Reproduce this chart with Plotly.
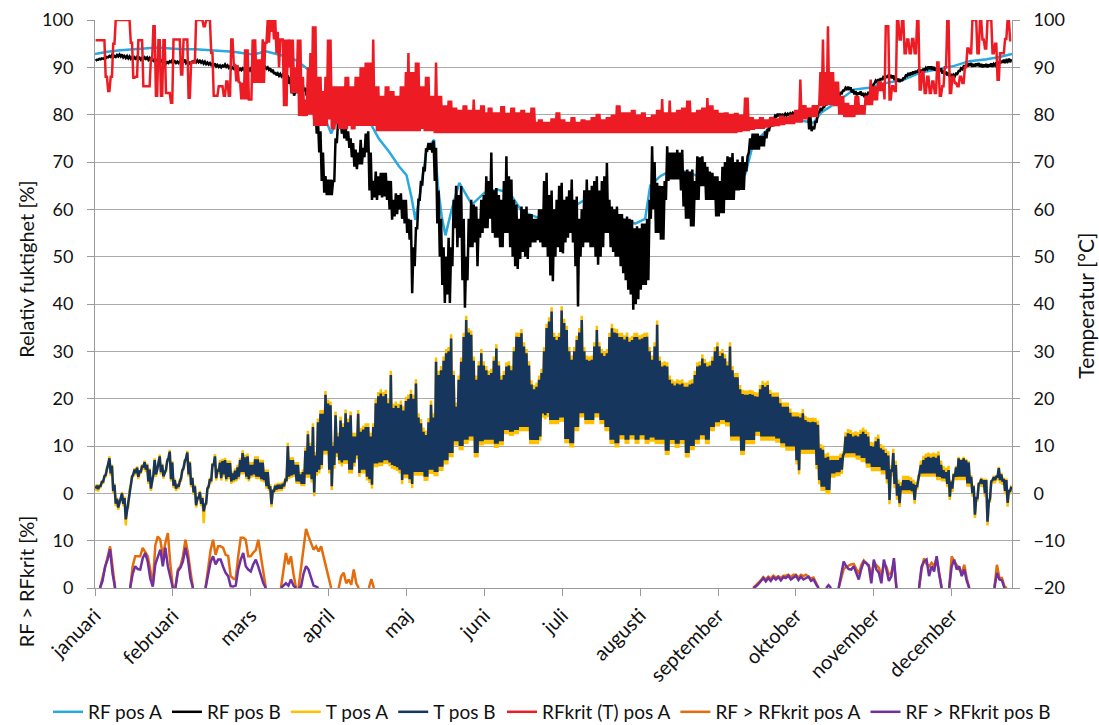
import plotly.graph_objects as go

# ---------------------------------------------------------------- data
months = ["januari", "februari", "mars", "april", "maj", "juni", "juli",
          "augusti", "september", "oktober", "november", "december"]
month_tick_days = [0, 31, 62, 93, 124, 155, 186, 217, 248, 279, 310, 341]

# RF pos A (smooth sensor), sampled at the listed days
rf_pos_a_days = [0, 5, 10, 15, 20, 25, 30, 35, 40, 45, 50, 55, 60, 63, 68, 72, 76, 80, 83, 85,
                 88, 91, 94, 96, 98, 103, 105, 107, 108, 110, 113, 117, 121, 124, 126, 127.5, 129,
                 132, 135, 136.5, 138, 139.5, 142, 145, 150, 155, 160, 165, 170, 175, 180, 185,
                 190, 195, 200, 205, 210, 215, 219, 221, 225, 230, 235, 240, 245, 250, 255, 259,
                 262, 265, 269, 275, 280, 286, 289, 295, 302, 308, 315, 322, 328, 335, 342, 348,
                 355, 360, 365]
rf_pos_a = [92.8, 93.3, 93.6, 93.8, 94.1, 94.2, 94.0, 93.8, 93.8, 93.6, 93.4, 93.3, 92.9, 92.7,
            93.4, 92.8, 92.3, 91.5, 90.4, 89.5, 86.0, 80.0, 76.0, 78.5, 80.2, 80.4, 79.5, 80.6,
            81.0, 77.8, 74.9, 72.2, 69.1, 67.2, 62.5, 57.8, 62.0, 72.6, 74.7, 65.0, 58.5, 54.5,
            60.0, 65.6, 61.0, 63.5, 64.2, 63.5, 59.5, 58.5, 57.5, 60.0, 60.5, 62.0, 62.5, 60.0,
            58.0, 57.0, 58.0, 65.0, 67.0, 68.4, 68.0, 67.0, 65.5, 64.0, 64.5, 67.7, 74.0, 75.4,
            77.6, 79.0, 78.8, 78.3, 80.4, 82.5, 85.3, 85.7, 86.7, 87.4, 88.8, 89.6, 90.3, 91.3,
            91.7, 92.2, 92.8]

# Daily minimum / maximum (day 0 .. 364)
rf_pos_b_min = [
    91.4, 91.6, 91.7, 91.8, 91.9, 92.1, 92.2, 92.1, 92.2, 92.3,
    92.3, 92.1, 92.0, 91.9, 91.8, 91.7, 91.8, 91.7, 91.6, 91.7,
    91.8, 91.6, 91.5, 91.4, 91.3, 91.3, 91.2, 91.0, 90.8, 90.9,
    91.1, 91.0, 90.9, 90.9, 91.0, 91.2, 90.9, 90.7, 90.8, 91.1,
    91.1, 91.1, 91.0, 90.8, 90.7, 90.6, 90.5, 90.4, 90.2, 90.1,
    90.0, 90.2, 90.1, 89.9, 89.7, 89.7, 89.5, 89.4, 89.4, 89.5,
    89.3, 89.3, 89.2, 89.2, 89.3, 89.4, 89.6, 89.7, 89.7, 89.5,
    89.0, 88.6, 88.3, 88.2, 88.1, 88.0, 87.8, 86.5, 84.5, 84.0,
    84.8, 85.6, 85.4, 84.9, 84.0, 83.8, 82.0, 79.0, 76.0, 72.0,
    66.0, 63.5, 63.0, 63.0, 63.0, 66.0, 74.0, 77.0, 76.0, 75.0,
    74.5, 73.0, 71.0, 69.0, 68.5, 69.5, 69.5, 71.0, 72.0, 64.0,
    62.0, 62.5, 62.0, 63.0, 62.5, 62.7, 62.0, 60.0, 57.8, 58.5,
    59.0, 60.0, 58.0, 57.0, 55.0, 53.6, 42.3, 48.0, 56.0, 62.0,
    65.0, 68.0, 72.5, 72.6, 72.0, 66.0, 57.0, 50.0, 44.0, 40.2,
    42.0, 40.2, 48.0, 56.0, 52.0, 54.0, 45.0, 39.2, 45.0, 52.0,
    52.0, 53.0, 48.0, 54.0, 55.0, 56.0, 56.0, 58.0, 55.0, 54.0,
    54.0, 52.0, 52.0, 55.0, 55.0, 52.0, 50.0, 48.0, 47.4, 49.5,
    51.0, 50.0, 49.5, 52.0, 53.0, 53.0, 53.5, 53.0, 52.0, 52.0,
    50.0, 46.0, 44.8, 50.0, 52.0, 51.0, 50.7, 53.0, 54.0, 55.0,
    53.0, 48.0, 39.5, 50.0, 52.0, 53.0, 53.0, 52.0, 52.0, 50.0,
    48.3, 50.0, 52.0, 55.0, 55.0, 52.0, 51.0, 50.0, 50.0, 48.0,
    46.5, 45.0, 43.0, 42.0, 38.8, 40.0, 41.0, 43.0, 44.0, 44.0,
    45.0, 58.0, 60.0, 55.0, 55.0, 53.6, 53.6, 62.0, 66.0, 66.3,
    66.3, 66.3, 66.3, 64.0, 60.6, 58.0, 58.0, 56.4, 56.4, 62.0,
    62.0, 64.9, 64.9, 62.0, 62.0, 62.0, 62.0, 58.5, 58.5, 59.2,
    59.2, 62.0, 62.0, 62.0, 62.0, 64.0, 64.0, 64.1, 64.1, 68.0,
    72.0, 72.6, 72.6, 72.6, 72.6, 73.3, 73.3, 75.0, 76.5, 77.5,
    79.0, 79.6, 79.7, 79.6, 79.8, 79.8, 79.9, 80.0, 80.1, 80.2,
    80.3, 80.4, 80.7, 79.5, 76.9, 76.5, 76.9, 78.5, 80.5, 81.0,
    81.6, 82.2, 82.9, 83.2, 83.6, 83.8, 84.0, 84.5, 85.1, 85.4,
    85.2, 84.7, 84.3, 84.1, 84.3, 84.0, 83.7, 84.0, 84.5, 85.4,
    86.6, 86.9, 87.1, 87.3, 87.6, 87.8, 87.8, 87.7, 87.3, 87.0,
    86.9, 87.1, 87.7, 88.2, 88.3, 88.5, 88.7, 88.9, 88.9, 89.1,
    89.3, 89.6, 89.6, 89.5, 89.3, 89.4, 89.2, 88.7, 88.5, 88.3,
    88.0, 87.8, 88.1, 88.6, 89.2, 89.6, 90.0, 90.2, 90.3, 90.1,
    90.2, 90.3, 90.1, 90.0, 90.1, 90.0, 90.2, 90.1, 90.4, 90.6,
    90.8, 91.0, 90.9, 91.2, 91.1]
rf_pos_b_max = [
    91.6, 91.8, 91.9, 92.0, 92.2, 92.4, 92.6, 92.4, 92.6, 92.7,
    92.7, 92.4, 92.4, 92.3, 92.1, 92.1, 92.2, 92.0, 92.0, 92.1,
    92.1, 92.0, 91.8, 91.7, 91.6, 91.7, 91.5, 91.4, 91.1, 91.3,
    91.5, 91.3, 91.2, 91.3, 91.4, 91.6, 91.2, 91.0, 91.2, 91.5,
    91.5, 91.4, 91.3, 91.2, 91.0, 90.9, 90.8, 90.8, 90.5, 90.4,
    90.4, 90.6, 90.4, 90.2, 90.0, 90.1, 89.8, 89.7, 89.8, 89.9,
    89.6, 89.7, 89.5, 89.6, 89.7, 89.8, 90.0, 90.1, 90.0, 89.8,
    89.5, 89.0, 88.7, 88.6, 88.5, 88.4, 88.3, 88.0, 86.5, 85.0,
    85.8, 86.3, 86.1, 85.7, 85.0, 84.7, 84.0, 82.0, 79.0, 76.5,
    72.0, 67.0, 66.3, 66.3, 66.0, 75.0, 78.5, 79.5, 78.5, 77.5,
    76.5, 75.0, 74.0, 72.6, 72.0, 74.7, 73.0, 76.0, 76.5, 72.0,
    66.0, 68.0, 67.0, 67.7, 67.7, 67.7, 66.0, 66.0, 62.0, 63.4,
    63.0, 63.4, 62.0, 62.0, 58.0, 57.8, 52.0, 56.0, 62.0, 66.0,
    69.0, 72.6, 74.0, 74.0, 74.5, 73.0, 64.0, 58.0, 52.0, 50.0,
    54.0, 52.0, 62.0, 65.0, 63.0, 64.9, 58.0, 50.0, 58.0, 62.0,
    61.0, 60.6, 58.0, 62.0, 63.0, 67.0, 66.0, 72.0, 64.0, 64.5,
    63.0, 62.0, 66.0, 71.2, 67.0, 66.3, 62.0, 61.0, 58.0, 60.6,
    60.0, 60.6, 59.0, 59.0, 58.0, 58.0, 60.0, 60.0, 66.0, 67.7,
    63.0, 64.0, 60.0, 62.0, 65.0, 65.6, 62.0, 62.7, 64.0, 66.3,
    62.0, 62.7, 58.0, 60.0, 64.0, 66.3, 64.0, 65.0, 66.0, 67.0,
    64.0, 66.0, 67.0, 69.8, 62.0, 60.6, 60.0, 60.6, 59.0, 59.0,
    58.0, 58.5, 58.0, 57.8, 56.0, 56.4, 56.0, 57.0, 57.0, 58.0,
    62.0, 73.3, 70.0, 65.6, 65.0, 64.9, 66.0, 73.3, 72.0, 72.0,
    72.0, 72.6, 72.0, 72.6, 68.0, 68.4, 68.0, 68.4, 66.0, 71.2,
    71.0, 71.2, 70.0, 69.0, 68.0, 67.7, 67.0, 67.0, 66.0, 69.0,
    70.0, 71.2, 71.0, 71.9, 70.0, 70.5, 70.0, 71.2, 70.0, 71.2,
    75.0, 76.0, 76.0, 76.0, 75.5, 75.5, 76.5, 77.0, 78.0, 78.6,
    79.8, 80.2, 80.2, 80.0, 80.2, 80.2, 80.3, 80.4, 80.5, 80.6,
    80.7, 80.9, 81.2, 81.0, 79.5, 77.5, 78.5, 80.5, 81.2, 81.5,
    82.3, 82.8, 83.5, 83.8, 84.1, 84.3, 84.6, 85.1, 85.7, 85.9,
    85.8, 85.3, 84.9, 84.7, 84.9, 84.6, 84.3, 84.6, 85.2, 86.3,
    87.2, 87.5, 87.7, 87.9, 88.2, 88.4, 88.4, 88.3, 87.9, 87.6,
    87.5, 87.7, 88.3, 88.8, 88.9, 89.1, 89.3, 89.5, 89.5, 89.7,
    89.9, 90.2, 90.2, 90.1, 89.9, 90.0, 89.8, 89.3, 89.1, 88.9,
    88.6, 88.4, 88.7, 89.2, 89.8, 90.2, 90.6, 90.8, 90.9, 90.7,
    90.8, 90.9, 90.7, 90.6, 90.7, 90.6, 90.8, 90.7, 91.0, 91.2,
    91.4, 91.6, 91.5, 91.8, 91.7]

t_pos_a_min = [
    0.5, 0.4, 1.1, 2.0, 3.4, 5.5, 3.7, 0.0, -2.7, -3.5,
    -1.4, -2.7, -6.8, -3.0, 1.7, 3.5, 3.8, 3.0, 4.1, 5.0,
    4.5, 2.0, 0.5, 3.5, 3.5, 6.0, 4.0, 3.1, 4.5, 7.0,
    2.5, 1.1, 0.5, 0.9, 2.7, 4.9, 6.9, 3.5, 1.3, -0.3,
    -3.0, -1.5, -2.7, -6.3, -2.5, 1.0, 2.1, 5.5, 2.7, 4.1,
    2.7, 3.5, 2.5, 3.0, 2.0, 2.3, 2.5, 3.0, 4.0, 4.0,
    3.0, 2.5, 3.3, 3.5, 3.0, 3.0, 2.5, 2.3, 1.0, 0.5,
    -2.9, 0.0, 0.3, 0.5, 0.5, 1.0, 2.3, 3.0, 3.3, 3.5,
    2.0, 2.0, 1.5, 1.5, 3.3, 3.3, 2.3, -0.6, 3.7, 4.2,
    5.2, 8.2, 8.2, 4.2, 0.7, 5.2, 7.7, 6.2, 5.7, 6.2,
    6.2, 4.2, 4.2, 5.7, 7.2, 3.5, 4.2, 4.2, 2.7, 2.2,
    1.0, 5.5, 5.5, 5.7, 5.7, 6.2, 6.2, 5.7, 5.2, 5.0,
    4.7, 4.2, 1.9, 3.2, 3.2, 2.2, 1.1, 3.7, 3.7, 3.7,
    3.7, 2.6, 2.6, 4.1, 4.1, 3.6, 3.6, 4.7, 4.7, 6.1,
    6.1, 7.6, 7.6, 10.1, 10.1, 9.1, 9.1, 10.4, 10.4, 11.1,
    11.1, 7.6, 7.6, 10.1, 10.1, 10.4, 10.4, 10.4, 10.4, 9.6,
    9.6, 10.1, 10.1, 12.5, 12.5, 12.1, 12.1, 12.5, 12.5, 13.1,
    13.1, 13.1, 13.1, 10.4, 10.4, 10.4, 10.4, 11.1, 16.0, 15.6,
    16.1, 14.6, 14.6, 14.6, 14.6, 15.1, 15.1, 10.6, 10.6, 9.7,
    9.7, 13.1, 13.1, 16.0, 16.0, 14.6, 14.6, 14.6, 14.6, 16.0,
    16.0, 14.6, 14.6, 13.1, 13.1, 10.4, 10.4, 9.7, 9.7, 11.4,
    11.4, 10.4, 10.4, 11.4, 11.4, 10.4, 10.4, 11.4, 11.4, 10.4,
    10.4, 10.9, 10.9, 10.4, 10.4, 10.4, 10.4, 8.1, 8.1, 10.4,
    10.4, 9.6, 9.6, 10.4, 10.4, 7.6, 7.6, 9.1, 9.1, 10.4,
    10.4, 11.4, 11.4, 10.4, 10.4, 13.1, 13.1, 14.1, 14.1, 14.6,
    14.6, 14.1, 14.1, 11.1, 11.1, 11.1, 11.1, 8.1, 8.1, 10.4,
    10.4, 10.4, 10.4, 12.1, 12.1, 11.1, 11.1, 11.1, 11.1, 11.1,
    11.1, 10.7, 10.7, 9.7, 9.7, 9.0, 9.0, 9.0, 9.0, 6.1,
    4.0, 8.3, 8.3, 8.3, 8.3, 8.3, 8.3, 5.1, 1.9, 0.5,
    0.5, -0.2, -0.2, 3.3, 3.3, 3.6, 3.6, 4.1, 7.6, 7.6,
    7.6, 7.6, 7.6, 7.1, 7.1, 6.6, 6.6, 5.4, 5.4, 4.7,
    4.7, 4.7, 4.7, 4.0, 4.0, 2.1, -2.3, 3.6, 1.1, -1.4,
    -2.9, 0.0, 0.0, 0.0, 0.0, -0.2, -2.2, 0.8, 3.5, 3.5,
    3.5, 3.5, 3.5, 3.5, 3.5, 2.8, 2.8, 2.5, 2.5, 1.3,
    -1.4, 0.3, 2.8, 2.8, 2.8, 2.8, 2.8, 1.4, 1.4, -0.7,
    -5.2, -1.7, 1.5, 1.3, -0.7, -6.8, -1.7, 2.1, 2.1, 2.8,
    2.1, 1.8, -0.2, -2.8, -0.2]
t_pos_a_max = [
    1.9, 1.8, 2.7, 3.9, 5.5, 7.8, 6.1, 2.1, -0.9, -1.7,
    0.3, -0.7, -3.2, 0.8, 3.8, 5.3, 5.7, 4.9, 6.1, 6.9,
    6.3, 5.3, 2.8, 7.4, 5.3, 8.2, 6.3, 4.8, 7.1, 9.2,
    6.8, 3.1, 2.1, 2.8, 5.1, 7.1, 9.0, 6.8, 3.5, 1.8,
    -0.7, 0.5, -0.7, -2.2, 1.3, 3.3, 6.4, 8.3, 5.4, 7.0,
    7.3, 7.5, 6.9, 6.9, 4.6, 5.3, 6.0, 7.5, 9.1, 8.2,
    8.4, 6.6, 6.6, 7.8, 7.8, 7.1, 7.1, 5.0, 5.0, 1.9,
    0.9, 2.0, 2.2, 2.2, 2.4, 3.3, 10.7, 7.6, 7.6, 6.6,
    6.6, 4.5, 5.0, 9.7, 13.2, 10.7, 14.8, 8.7, 15.8, 17.6,
    17.6, 21.6, 19.8, 19.4, 10.8, 17.3, 12.8, 16.2, 14.8, 17.7,
    15.8, 17.3, 12.8, 12.8, 17.6, 13.8, 14.3, 14.8, 14.8, 12.8,
    14.8, 19.9, 21.4, 22.0, 21.4, 21.9, 19.9, 25.9, 18.9, 19.4,
    18.9, 19.6, 18.4, 20.4, 20.9, 21.9, 20.9, 24.1, 16.9, 15.7,
    13.9, 13.2, 15.9, 19.6, 16.9, 28.7, 25.9, 26.9, 28.9, 30.5,
    30.9, 33.6, 25.9, 19.2, 24.9, 28.7, 33.9, 37.5, 34.9, 34.4,
    28.9, 24.9, 27.9, 30.5, 27.9, 26.9, 25.9, 26.3, 28.9, 31.5,
    27.9, 24.9, 25.9, 27.7, 27.9, 26.9, 30.9, 34.0, 33.9, 34.7,
    31.9, 30.5, 27.9, 23.9, 22.9, 23.4, 24.9, 26.3, 30.9, 35.8,
    37.2, 39.3, 33.9, 33.3, 33.9, 39.5, 36.9, 35.4, 30.9, 29.1,
    30.9, 33.3, 34.9, 37.5, 30.9, 29.1, 28.9, 29.1, 31.9, 35.4,
    31.9, 30.5, 29.9, 30.5, 33.9, 35.8, 34.9, 34.7, 33.9, 33.9,
    33.4, 34.0, 32.9, 33.3, 33.9, 33.9, 33.4, 33.6, 33.9, 34.0,
    30.9, 29.1, 31.9, 36.5, 28.9, 27.7, 27.9, 27.7, 24.9, 24.1,
    23.7, 24.1, 23.9, 24.1, 23.4, 23.4, 23.9, 24.1, 25.9, 27.7,
    27.9, 29.4, 28.4, 27.7, 27.9, 28.9, 30.9, 31.9, 29.9, 30.5,
    29.4, 27.9, 31.9, 26.9, 25.4, 25.4, 22.9, 21.9, 21.7, 21.7,
    21.9, 21.7, 21.4, 21.3, 22.9, 23.8, 23.4, 23.8, 21.9, 21.3,
    21.3, 21.3, 19.9, 19.2, 19.2, 19.2, 17.9, 17.1, 17.1, 17.1,
    16.9, 17.8, 16.4, 16.0, 15.9, 16.0, 15.9, 15.4, 10.4, 10.1,
    8.4, 8.6, 7.9, 7.9, 7.9, 7.9, 8.4, 8.9, 12.9, 13.6,
    13.4, 12.9, 13.1, 12.9, 13.4, 13.9, 13.4, 12.9, 10.9, 10.8,
    11.9, 12.4, 10.4, 10.1, 9.4, 8.9, 5.9, 9.4, 6.9, 2.9,
    2.4, 3.7, 3.7, 3.7, 3.4, 2.9, 2.4, 3.9, 6.9, 7.9,
    8.4, 8.6, 8.4, 8.6, 8.4, 8.9, 6.9, 5.8, 5.4, 5.8,
    2.8, 4.3, 5.8, 7.7, 7.3, 7.7, 7.3, 6.8, 3.8, 1.8,
    -0.7, 2.3, 3.3, 3.1, 3.1, -1.7, 2.8, 3.7, 3.8, 5.6,
    4.3, 3.3, 3.1, 0.8, 1.7]

t_pos_b_min = [
    1.0, 0.9, 1.6, 2.5, 3.9, 6.0, 4.2, 0.5, -2.2, -3.0,
    -0.9, -2.2, -5.5, -2.5, 2.2, 4.0, 4.3, 3.5, 4.6, 5.5,
    5.0, 2.5, 1.0, 4.0, 4.0, 6.5, 4.5, 3.6, 5.0, 7.5,
    3.0, 1.6, 1.0, 1.4, 3.2, 5.4, 7.4, 4.0, 1.8, 0.2,
    -2.5, -1.0, -2.2, -3.8, -2.0, 1.5, 2.6, 6.0, 3.2, 4.6,
    3.2, 4.0, 3.0, 3.5, 2.5, 2.8, 3.0, 3.5, 4.5, 4.5,
    3.5, 3.0, 3.8, 4.0, 3.5, 3.5, 3.0, 2.8, 1.5, 1.0,
    -2.3, 0.5, 0.8, 1.0, 1.0, 1.5, 2.8, 3.5, 3.8, 4.0,
    2.5, 2.5, 2.0, 2.0, 4.0, 4.0, 3.0, 0.2, 4.5, 5.0,
    6.0, 9.0, 9.0, 5.0, 1.5, 6.0, 8.5, 7.0, 6.5, 7.0,
    7.0, 5.0, 5.0, 6.5, 8.0, 4.3, 5.0, 5.0, 3.5, 3.0,
    1.8, 6.3, 6.3, 6.5, 6.5, 7.0, 7.0, 6.5, 6.0, 5.8,
    5.5, 5.0, 2.8, 4.0, 4.0, 3.0, 2.0, 4.5, 4.5, 4.5,
    4.5, 3.5, 3.5, 5.0, 5.0, 4.5, 4.5, 5.6, 5.6, 7.0,
    7.0, 8.5, 8.5, 11.0, 11.0, 10.0, 10.0, 11.3, 11.3, 12.0,
    12.0, 8.5, 8.5, 11.0, 11.0, 11.3, 11.3, 11.3, 11.3, 10.5,
    10.5, 11.0, 11.0, 13.4, 13.4, 13.0, 13.0, 13.4, 13.4, 14.0,
    14.0, 14.0, 14.0, 11.3, 11.3, 11.3, 11.3, 12.0, 16.9, 16.5,
    17.0, 15.5, 15.5, 15.5, 15.5, 16.0, 16.0, 11.5, 11.5, 10.6,
    10.6, 14.0, 14.0, 16.9, 16.9, 15.5, 15.5, 15.5, 15.5, 16.9,
    16.9, 15.5, 15.5, 14.0, 14.0, 11.3, 11.3, 10.6, 10.6, 12.3,
    12.3, 11.3, 11.3, 12.3, 12.3, 11.3, 11.3, 12.3, 12.3, 11.3,
    11.3, 11.8, 11.8, 11.3, 11.3, 11.3, 11.3, 9.0, 9.0, 11.3,
    11.3, 10.5, 10.5, 11.3, 11.3, 8.5, 8.5, 10.0, 10.0, 11.3,
    11.3, 12.3, 12.3, 11.3, 11.3, 14.0, 14.0, 15.0, 15.0, 15.5,
    15.5, 15.0, 15.0, 12.0, 12.0, 12.0, 12.0, 9.0, 9.0, 11.3,
    11.3, 11.3, 11.3, 13.0, 13.0, 12.0, 12.0, 12.0, 12.0, 12.0,
    12.0, 11.6, 11.6, 10.6, 10.6, 9.9, 9.9, 9.9, 9.9, 7.0,
    4.9, 9.2, 9.2, 9.2, 9.2, 9.2, 9.2, 6.0, 2.8, 1.4,
    1.4, 0.7, 0.7, 4.2, 4.2, 4.5, 4.5, 5.0, 8.5, 8.5,
    8.5, 8.5, 8.5, 8.0, 8.0, 7.5, 7.5, 6.3, 6.3, 5.6,
    5.6, 5.6, 5.6, 4.9, 4.9, 3.0, -1.4, 4.5, 2.0, -0.5,
    -2.1, 0.7, 0.7, 0.7, 0.7, 0.5, -1.4, 1.5, 4.2, 4.2,
    4.2, 4.2, 4.2, 4.2, 4.2, 3.5, 3.5, 3.2, 3.2, 2.0,
    -0.7, 1.0, 3.5, 3.5, 3.5, 3.5, 3.5, 2.1, 2.1, 0.0,
    -4.5, -1.0, 2.2, 2.0, 0.0, -6.0, -1.0, 2.8, 2.8, 3.5,
    2.8, 2.5, 0.5, -2.0, 0.5]
t_pos_b_max = [
    1.6, 1.5, 2.4, 3.6, 5.2, 7.4, 5.8, 1.8, -1.2, -2.0,
    0.0, -1.0, -3.5, 0.5, 3.5, 5.0, 5.4, 4.6, 5.8, 6.6,
    6.0, 5.0, 2.5, 7.0, 5.0, 7.8, 6.0, 4.5, 6.8, 8.8,
    6.5, 2.8, 1.8, 2.5, 4.8, 6.8, 8.6, 6.5, 3.2, 1.5,
    -1.0, 0.2, -1.0, -2.5, 1.0, 3.0, 6.0, 7.8, 5.0, 6.5,
    6.8, 7.0, 6.4, 6.4, 4.2, 4.8, 5.5, 7.0, 8.5, 7.6,
    7.8, 6.0, 6.0, 7.2, 7.2, 6.5, 6.5, 4.5, 4.5, 1.5,
    0.5, 1.6, 1.8, 1.8, 2.0, 2.8, 10.0, 7.0, 7.0, 6.0,
    6.0, 4.0, 4.5, 9.0, 12.5, 10.0, 14.0, 8.0, 15.0, 16.8,
    16.8, 20.8, 19.0, 18.6, 10.0, 16.5, 12.0, 15.4, 14.0, 16.9,
    15.0, 16.5, 12.0, 12.0, 16.8, 13.0, 13.5, 14.0, 14.0, 12.0,
    14.0, 19.0, 20.5, 21.1, 20.5, 21.0, 19.0, 25.0, 18.0, 18.5,
    18.0, 18.7, 17.5, 19.5, 20.0, 21.0, 20.0, 23.2, 16.0, 14.8,
    13.0, 12.3, 15.0, 18.7, 16.0, 27.8, 25.0, 26.0, 28.0, 29.6,
    30.0, 32.7, 25.0, 18.3, 24.0, 27.8, 33.0, 36.6, 34.0, 33.5,
    28.0, 24.0, 27.0, 29.6, 27.0, 26.0, 25.0, 25.4, 28.0, 30.6,
    27.0, 24.0, 25.0, 26.8, 27.0, 26.0, 30.0, 33.1, 33.0, 33.8,
    31.0, 29.6, 27.0, 23.0, 22.0, 22.5, 24.0, 25.4, 30.0, 34.9,
    36.3, 38.4, 33.0, 32.4, 33.0, 38.6, 36.0, 34.5, 30.0, 28.2,
    30.0, 32.4, 34.0, 36.6, 30.0, 28.2, 28.0, 28.2, 31.0, 34.5,
    31.0, 29.6, 29.0, 29.6, 33.0, 34.9, 34.0, 33.8, 33.0, 33.0,
    32.5, 33.1, 32.0, 32.4, 33.0, 33.0, 32.5, 32.7, 33.0, 33.1,
    30.0, 28.2, 31.0, 35.6, 28.0, 26.8, 27.0, 26.8, 24.0, 23.2,
    22.8, 23.2, 23.0, 23.2, 22.5, 22.5, 23.0, 23.2, 25.0, 26.8,
    27.0, 28.5, 27.5, 26.8, 27.0, 28.0, 30.0, 31.0, 29.0, 29.6,
    28.5, 27.0, 31.0, 26.0, 24.5, 24.5, 22.0, 21.0, 20.8, 20.8,
    21.0, 20.8, 20.5, 20.4, 22.0, 22.9, 22.5, 22.9, 21.0, 20.4,
    20.4, 20.4, 19.0, 18.3, 18.3, 18.3, 17.0, 16.2, 16.2, 16.2,
    16.0, 16.9, 15.5, 15.1, 15.0, 15.1, 15.0, 14.5, 9.5, 9.2,
    7.5, 7.7, 7.0, 7.0, 7.0, 7.0, 7.5, 8.0, 12.0, 12.7,
    12.5, 12.0, 12.2, 12.0, 12.5, 13.0, 12.5, 12.0, 10.0, 9.9,
    11.0, 11.5, 9.5, 9.2, 8.5, 8.0, 5.0, 8.5, 6.0, 2.0,
    1.5, 2.8, 2.8, 2.8, 2.5, 2.0, 1.5, 3.0, 6.0, 7.0,
    7.5, 7.7, 7.5, 7.7, 7.5, 8.0, 6.0, 4.9, 4.5, 4.9,
    2.5, 4.0, 5.5, 7.4, 7.0, 7.4, 7.0, 6.5, 3.5, 1.5,
    -1.0, 2.0, 3.0, 2.8, 2.8, -2.0, 2.5, 3.4, 3.5, 5.3,
    4.0, 3.0, 2.8, 0.5, 1.4]

# RFkrit: where minimum equals maximum the level held all day
rf_krit_min = [
    95.7, 95.7, 95.7, 95.7, 88.0, 85.0, 88.0, 95.0, 100, 100,
    100, 100, 100, 100, 95.2, 87.8, 88.0, 95.7, 95.7, 86.0,
    86.0, 86.0, 91.7, 98.7, 84.0, 95.7, 84.0, 95.7, 84.6, 84.6,
    82.5, 95.9, 95.9, 95.9, 88.5, 95.9, 95.9, 83.6, 91.0, 91.0,
    100, 100, 100, 98.7, 100, 100, 93.1, 84.0, 84.0, 86.0,
    86.0, 84.0, 87.0, 84.0, 95.9, 90.5, 87.0, 86.7, 83.2, 83.2,
    83.2, 83.2, 83.2, 86.7, 86.7, 86.7, 86.7, 86.7, 95.2, 95.2,
    97.5, 95.9, 93.0, 90.0, 95.9, 81.8, 81.8, 90.0, 84.6, 84.6,
    84.6, 79.7, 79.7, 79.7, 79.7, 80.0, 80.0, 77.6, 77.6, 77.6,
    77.6, 77.6, 77.6, 79.0, 76.9, 76.9, 78.0, 77.0, 77.0, 76.9,
    76.9, 77.6, 76.9, 76.9, 77.6, 77.6, 77.6, 77.6, 77.6, 77.6,
    77.6, 77.6, 76.5, 76.5, 76.5, 76.5, 76.5, 76.5, 76.5, 76.5,
    76.5, 76.5, 76.5, 76.5, 76.5, 76.5, 76.5, 76.5, 76.5, 76.5,
    77.0, 76.5, 76.5, 76.5, 76.5, 76.1, 76.1, 76.1, 76.1, 76.1,
    76.1, 76.1, 76.1, 76.1, 76.1, 76.1, 76.1, 76.1, 76.1, 76.1,
    76.1, 76.1, 76.1, 76.1, 76.1, 76.1, 76.1, 76.1, 76.1, 76.1,
    76.1, 76.1, 76.1, 76.1, 76.1, 76.1, 76.1, 76.1, 76.1, 76.1,
    76.1, 76.1, 76.1, 76.1, 76.1, 76.1, 76.1, 76.1, 76.1, 76.1,
    76.1, 76.1, 76.1, 76.1, 76.1, 76.1, 76.1, 76.1, 76.1, 76.1,
    76.1, 76.1, 76.1, 76.1, 76.1, 76.1, 76.1, 76.1, 76.1, 76.1,
    76.1, 76.1, 76.1, 76.1, 76.1, 76.1, 76.1, 76.1, 76.1, 76.1,
    76.1, 76.1, 76.1, 76.1, 76.1, 76.1, 76.1, 76.1, 76.1, 76.1,
    76.1, 76.1, 76.1, 76.1, 76.1, 76.1, 76.1, 76.1, 76.1, 76.1,
    76.1, 76.1, 76.1, 76.1, 76.1, 76.1, 76.1, 76.1, 76.1, 76.1,
    76.1, 76.1, 76.1, 76.1, 76.1, 76.1, 76.1, 76.1, 76.1, 76.1,
    76.1, 76.1, 76.1, 76.1, 76.1, 76.1, 76.3, 76.3, 76.5, 76.5,
    76.5, 76.8, 76.8, 77.0, 77.0, 77.0, 77.0, 77.3, 77.3, 77.5,
    77.5, 77.6, 77.6, 77.8, 77.8, 78.0, 78.0, 78.0, 78.0, 78.3,
    78.3, 78.3, 79.0, 79.0, 79.5, 79.5, 79.5, 79.5, 81.8, 81.8,
    81.8, 82.0, 82.0, 82.0, 81.8, 81.8, 80.0, 80.0, 79.5, 79.5,
    79.5, 79.5, 79.5, 80.0, 80.0, 80.0, 80.0, 82.0, 82.0, 82.0,
    83.0, 83.0, 85.0, 85.0, 83.2, 98.7, 83.2, 86.0, 85.0, 100,
    95.9, 100, 93.0, 95.9, 93.0, 96.0, 93.0, 100, 85.3, 89.0,
    84.6, 88.0, 84.6, 87.0, 84.6, 91.0, 84.0, 86.0, 90.0, 100,
    84.6, 88.0, 86.7, 86.0, 88.0, 86.7, 90.0, 94.0, 93.0, 100,
    100, 93.0, 100, 95.9, 94.0, 100, 100, 93.0, 95.0, 87.4,
    93.0, 93.0, 96.0, 100, 95.7]
rf_krit_max = [
    95.7, 95.7, 95.7, 95.7, 88.0, 85.0, 88.0, 95.0, 100, 100,
    100, 100, 100, 100, 95.2, 87.8, 88.0, 95.7, 95.7, 86.0,
    86.0, 86.0, 91.7, 98.7, 84.0, 95.7, 84.0, 95.7, 84.6, 84.6,
    82.5, 95.9, 95.9, 95.9, 88.5, 95.9, 95.9, 83.6, 91.0, 91.0,
    100, 100, 100, 98.7, 100, 100, 93.1, 84.0, 84.0, 86.0,
    86.0, 84.0, 87.0, 84.0, 95.9, 90.5, 90.5, 87.0, 86.7, 93.8,
    93.8, 83.2, 95.9, 95.9, 91.7, 91.7, 95.9, 95.2, 100, 100,
    100, 100, 97.5, 95.9, 95.9, 95.9, 95.9, 95.9, 95.9, 90.0,
    95.9, 95.9, 88.0, 83.2, 90.0, 93.0, 98.7, 98.7, 88.0, 88.0,
    85.0, 88.0, 95.9, 95.9, 86.0, 86.0, 86.0, 86.0, 86.0, 88.0,
    88.0, 86.0, 86.0, 88.0, 88.0, 90.0, 90.0, 91.0, 91.0, 91.0,
    95.9, 86.0, 86.0, 84.0, 84.0, 86.0, 86.0, 85.0, 85.0, 84.0,
    84.0, 86.0, 86.0, 89.0, 93.0, 89.0, 89.0, 91.0, 91.0, 86.0,
    86.0, 88.0, 88.0, 84.0, 84.0, 91.0, 84.0, 84.0, 82.0, 82.0,
    83.0, 83.0, 81.5, 81.5, 81.0, 81.0, 82.0, 82.0, 81.0, 81.0,
    83.2, 81.0, 81.0, 82.0, 82.0, 80.5, 81.5, 81.5, 80.5, 80.5,
    80.5, 81.8, 81.8, 80.4, 80.4, 81.5, 81.5, 80.5, 80.5, 81.0,
    81.0, 80.4, 80.4, 81.5, 81.5, 78.5, 79.0, 79.0, 78.5, 78.5,
    78.5, 79.2, 79.2, 80.5, 80.5, 79.0, 79.0, 78.5, 78.5, 79.5,
    79.5, 78.5, 78.5, 79.0, 79.0, 78.8, 78.8, 79.5, 79.5, 80.2,
    80.2, 79.0, 79.0, 79.5, 79.5, 80.0, 80.0, 82.0, 82.0, 80.5,
    80.5, 80.5, 80.5, 81.0, 81.0, 80.0, 80.0, 80.5, 80.5, 79.5,
    79.5, 80.0, 80.0, 81.0, 81.0, 83.3, 80.5, 80.5, 83.0, 80.5,
    80.5, 81.0, 81.0, 81.5, 81.5, 83.0, 83.0, 80.5, 80.5, 81.0,
    81.0, 81.5, 81.5, 83.5, 82.0, 82.0, 81.0, 81.0, 80.4, 80.4,
    80.5, 80.5, 80.2, 80.2, 80.4, 80.4, 80.0, 80.0, 83.6, 83.6,
    79.5, 79.5, 79.0, 79.0, 79.5, 79.5, 79.0, 79.0, 79.5, 79.5,
    79.2, 79.2, 79.8, 79.8, 79.5, 79.5, 80.0, 80.0, 81.0, 81.0,
    87.4, 82.0, 82.0, 81.5, 81.5, 82.0, 82.0, 82.0, 89.0, 95.9,
    89.0, 98.7, 89.0, 89.0, 87.0, 87.0, 84.0, 84.0, 82.5, 82.5,
    82.0, 82.0, 84.0, 84.0, 82.0, 82.0, 84.0, 84.0, 87.4, 86.0,
    86.0, 87.0, 87.0, 86.7, 98.7, 98.7, 83.2, 86.0, 85.0, 100,
    95.9, 100, 93.0, 95.9, 93.0, 96.0, 93.0, 100, 85.3, 89.0,
    84.6, 88.0, 84.6, 87.0, 84.6, 91.0, 84.0, 86.0, 90.0, 100,
    84.6, 88.0, 86.7, 86.0, 88.0, 86.7, 90.0, 94.0, 93.0, 100,
    100, 93.0, 100, 95.9, 94.0, 100, 100, 93.0, 95.0, 87.4,
    93.0, 93.0, 96.0, 100, 95.7]

# Exceedance RF > RFkrit: episodes keyed by their first day
exceed_pos_a = {
    2: [0, 2, 4, 6.5, 8.8, 4, 0],
    14: [0, 4.6, 6.7, 6.7, 6.7, 8.5, 7.7, 6.7, 3.9, 0.5, 9, 10.9, 10.2, 6.7, 9.5, 11.6, 5, 0],
    32: [0, 3.9, 4.6, 6.7, 10.2, 7.4, 3.5, 0],
    44: [0, 3.9, 8, 10.2, 7, 8.8, 8.8, 8.5, 7, 6.8, 2.5, 2, 1.8, 6.7, 10.6, 10.6, 10.2,
         6.7, 6.7, 7.5, 8, 10.2, 6.7, 3, 0],
    74: [0, 4, 7.4, 5, 6.7, 3, 0],
    81: [0, 4, 9, 12.5, 10.9, 9.5, 8.1, 8.8, 7.7, 8.8, 6.5, 4.5, 2, 0],
    97: [0, 2.5, 3.2, 1, 1.8, 0.7, 3.9, 1, 0],
    109: [0, 1.9, 0],
    262: [0, 0.5, 1.0, 1.6, 2.3, 1.8, 2.4, 2.0, 2.6, 2.2, 2.5, 2.1, 2.6, 2.6, 2.8, 2.3, 2.8,
          2.8, 2.2, 2.8, 2.5, 2.8, 2.4, 2.0, 2.2, 1.0, 0],
    296: [0, 1.8, 4.0, 4.5, 4.8, 5.0, 5.1, 4.0, 3.0, 4.8, 5.8, 5.2, 4.8, 2.3, 5.5, 4.8, 4.3,
          2.5, 5.2, 4.5, 2.8, 3.2, 5.6, 0],
    328: [0, 3.9, 6.3, 5.0, 4.6, 5.3, 4.6, 6.3, 3.2, 0],
    340: [0, 6.7, 5.6, 4.9, 3.9, 3.2, 4.9, 2, 0],
    358: [0, 4.9, 2.1, 2.1, 0.3, 0],
}
exceed_pos_b = {
    2: [0, 1.5, 4.5, 6, 8.2, 3, 0],
    14: [0, 3, 4.6, 4, 3.9, 6.3, 7.4, 5.5, 2, 0.3, 5, 6.5, 8.1, 4.6, 8.5, 4.6, 2, 0],
    32: [0, 3.5, 4.3, 5.6, 8.5, 6, 2, 0],
    44: [0, 2.5, 5.5, 6.7, 5, 6, 6, 4.5, 3.2, 2.5, 0.4, 0.3, 0.5, 3.9, 6, 7.4, 4.6, 3.9,
         3.5, 5, 6, 4.5, 2.5, 1, 0],
    74: [0, 0.5, 1, 0.5, 1.8, 0.5, 0],
    81: [0, 0.3, 3, 4.6, 3.9, 2, 0.5, 0.3, 0],
    262: [0, 0.3, 0.8, 1.4, 2.1, 1.4, 2.1, 1.5, 2.3, 1.8, 2.3, 1.6, 2.3, 2.1, 2.6, 1.8, 2.3,
          2.6, 1.7, 2.4, 1.8, 2.1, 2.4, 1.5, 1.8, 0.8, 0],
    291: [0, 0.6, 0],
    296: [0, 2.5, 5.6, 4.6, 4, 3.9, 4.6, 3.2, 1.8, 4, 5.6, 5.3, 4.6, 1, 6, 3.9, 3.2, 1, 6,
          3.9, 1.5, 2.5, 6.3, 0],
    328: [0, 4.5, 5.6, 6, 2.5, 4.6, 3.5, 6.7, 3, 0],
    340: [0, 4.6, 6, 3.9, 4.6, 2.5, 3.9, 1.5, 0],
    358: [0, 3.2, 1.8, 1.6, 0],
}

for series in (rf_pos_b_min, rf_pos_b_max, t_pos_a_min, t_pos_a_max,
               t_pos_b_min, t_pos_b_max, rf_krit_min, rf_krit_max):
    assert len(series) == 365, len(series)


def daily_range(lows, highs):
    """Interleave each day's minimum (morning) and maximum (afternoon)."""
    xs, ys = [], []
    for day, (lo, hi) in enumerate(zip(lows, highs)):
        xs += [day + 0.25, day + 0.75]
        ys += [lo, hi]
    return xs, ys


def episodes_xy(episodes):
    xs, ys = [], []
    for start, vals in episodes.items():
        xs += list(range(start, start + len(vals))) + [None]
        ys += list(vals) + [None]
    return xs, ys


# ---------------------------------------------------------------- styling
FONT = "Lato, 'Open Sans', sans-serif"
TXT = "#111111"
GRID = "#ababab"
AXIS = "#9a9a9a"
LW = 2.5

fig = go.Figure()
fig.add_trace(go.Scatter(x=rf_pos_a_days, y=rf_pos_a, name="RF pos A", mode="lines",
                         line=dict(color="#2AA8E0", width=LW), yaxis="y", legend="legend"))
x, y = daily_range(rf_pos_b_min, rf_pos_b_max)
fig.add_trace(go.Scatter(x=x, y=y, name="RF pos B", mode="lines",
                         line=dict(color="#000000", width=LW), yaxis="y", legend="legend"))
x, y = daily_range(t_pos_a_min, t_pos_a_max)
fig.add_trace(go.Scatter(x=x, y=y, name="T pos A", mode="lines",
                         line=dict(color="#FFC000", width=LW), yaxis="y2", legend="legend"))
x, y = daily_range(t_pos_b_min, t_pos_b_max)
fig.add_trace(go.Scatter(x=x, y=y, name="T pos B", mode="lines",
                         line=dict(color="#17365D", width=LW), yaxis="y2", legend="legend"))
x, y = daily_range(rf_krit_min, rf_krit_max)
fig.add_trace(go.Scatter(x=x, y=y, name="RFkrit (T) pos A", mode="lines",
                         line=dict(color="#ED1C24", width=LW), yaxis="y", legend="legend2"))
x, y = episodes_xy(exceed_pos_a)
fig.add_trace(go.Scatter(x=x, y=y, name="RF > RFkrit pos A", mode="lines",
                         line=dict(color="#E46C0A", width=LW), yaxis="y3", legend="legend2"))
x, y = episodes_xy(exceed_pos_b)
fig.add_trace(go.Scatter(x=x, y=y, name="RF > RFkrit pos B", mode="lines",
                         line=dict(color="#7030A0", width=LW), yaxis="y3", legend="legend2"))

tick_font = dict(family=FONT, size=18, color=TXT)
title_font = dict(family=FONT, size=20, color=TXT)
legend_common = dict(orientation="h", xanchor="left", xref="container",
                     y=0.018, yanchor="middle", yref="container",
                     font=dict(family=FONT, size=19, color=TXT), itemwidth=30,
                     bgcolor="rgba(0,0,0,0)")

fig.update_layout(
    width=1099, height=725,
    margin=dict(l=95, r=87, t=20, b=137, autoexpand=False),
    paper_bgcolor="white", plot_bgcolor="white",
    font=dict(family=FONT, size=18, color=TXT),
    showlegend=True,
    legend=dict(x=48 / 1099, **legend_common),
    legend2=dict(x=502 / 1099, **legend_common),
    xaxis=dict(range=[0, 365], tickmode="array", tickvals=month_tick_days, ticktext=months,
               tickangle=-45, ticks="outside", ticklen=7, tickcolor=AXIS,
               showline=True, linecolor=AXIS, linewidth=1, showgrid=False, zeroline=False,
               tickfont=dict(family=FONT, size=20, color=TXT), anchor="y", automargin=False),
    yaxis=dict(range=[-20, 100], tickmode="array", tickvals=list(range(-20, 101, 10)),
               ticktext=["", ""] + [str(v) for v in range(0, 101, 10)],
               ticks="outside", ticklen=7, tickcolor=AXIS, showline=True, linecolor=AXIS,
               showgrid=True, gridcolor=GRID, gridwidth=1, zeroline=False,
               tickfont=tick_font, ticklabelstandoff=10, automargin=False),
    yaxis2=dict(range=[-20, 100], dtick=10, overlaying="y", side="right",
                ticks="outside", ticklen=7, tickcolor=AXIS, showline=True, linecolor=AXIS,
                showgrid=False, zeroline=False, tickfont=tick_font, ticklabelstandoff=10,
                automargin=False),
    yaxis3=dict(range=[0, 120], tickmode="array", tickvals=[0, 10], ticktext=["0", "10"],
                overlaying="y", side="left", ticks="outside", ticklen=7, tickcolor=AXIS,
                showline=False, showgrid=False, zeroline=False, tickfont=tick_font,
                ticklabelstandoff=10, automargin=False),
    annotations=[
        dict(text="Relativ fuktighet [%]", textangle=-90, xref="paper", yref="paper",
             x=-0.0752, y=0.562, xanchor="center", yanchor="middle", showarrow=False,
             font=title_font),
        dict(text="RF > RFkrit [%]", textangle=-90, xref="paper", yref="paper",
             x=-0.0752, y=0.012, xanchor="center", yanchor="middle", showarrow=False,
             font=title_font),
        dict(text="Temperatur [°C]", textangle=-90, xref="paper", yref="paper",
             x=1.0807, y=0.497, xanchor="center", yanchor="middle", showarrow=False,
             font=dict(family=FONT, size=21, color=TXT)),
    ],
)

fig.write_html("out.html")
